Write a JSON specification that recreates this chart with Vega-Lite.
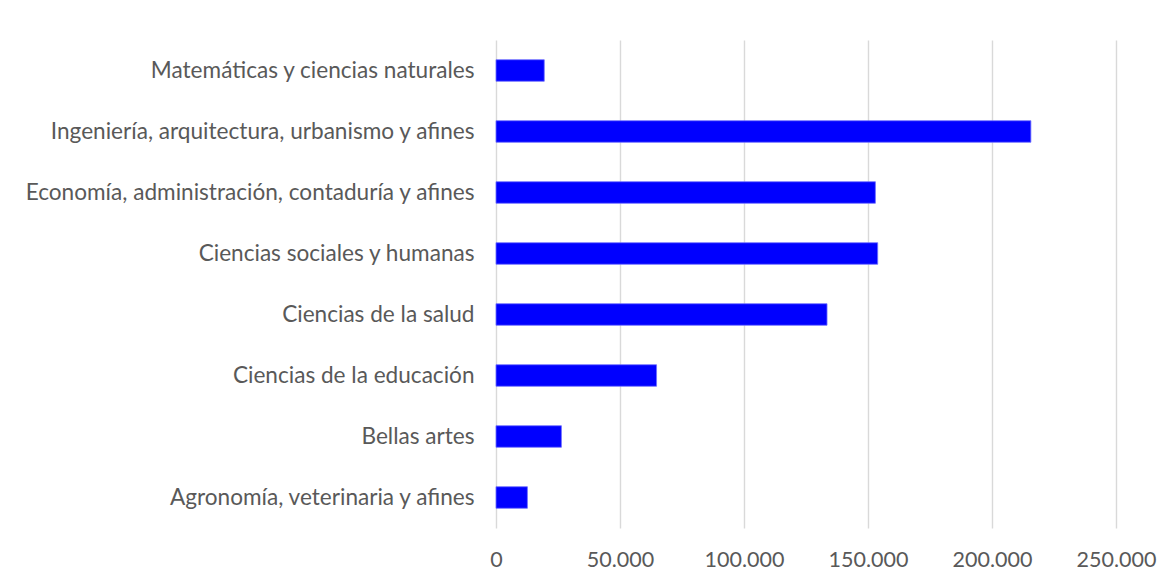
{
  "$schema": "https://vega.github.io/schema/vega-lite/v6.json",
  "autosize": {"type": "none"},
  "padding": {"left": 496, "top": 40, "right": 56, "bottom": 58},
  "width": 620,
  "height": 488,
  "background": "white",
  "config": {
    "view": {"stroke": null},
    "font": "Lato"
  },
  "data": {
    "values": [
      {"area": "Matemáticas y ciencias naturales", "valor": 19460},
      {"area": "Ingeniería, arquitectura, urbanismo y afines", "valor": 215670},
      {"area": "Economía, administración, contaduría y afines", "valor": 152980},
      {"area": "Ciencias sociales y humanas", "valor": 153910},
      {"area": "Ciencias de la salud", "valor": 133480},
      {"area": "Ciencias de la educación", "valor": 64740},
      {"area": "Bellas artes", "valor": 26370},
      {"area": "Agronomía, veterinaria y afines", "valor": 12660}
    ]
  },
  "mark": {"type": "bar", "color": "#0000ff", "stroke": "#6f6fff", "strokeWidth": 0.8},
  "encoding": {
    "y": {
      "field": "area", "type": "nominal", "sort": null, "title": null,
      "scale": {"paddingInner": 0.647, "paddingOuter": 0.3235},
      "axis": {"domain": false, "ticks": false, "labelPadding": 22, "labelFontSize": 22.6, "labelColor": "#595959", "labelLimit": 600}
    },
    "x": {
      "field": "valor", "type": "quantitative", "title": null,
      "scale": {"domain": [0, 250000], "nice": false},
      "axis": {"values": [0, 50000, 100000, 150000, 200000, 250000], "labelExpr": "replace(format(datum.value, ',.0f'), ',', '.')", "domain": false, "ticks": false, "labelPadding": 21, "labelFontSize": 21.5, "labelColor": "#595959", "gridColor": "#d9d9d9", "gridWidth": 1.4, "labelFlush": false}
    }
  }
}
